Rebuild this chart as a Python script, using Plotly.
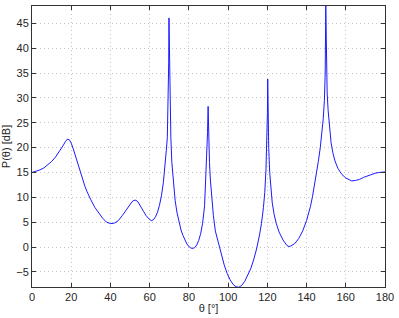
import plotly.graph_objects as go

theta = [0, 2, 4, 6, 8, 10, 12, 14, 15, 16, 17, 18, 19, 20, 21, 22, 23, 24, 25, 26,
         27, 28, 29, 30, 32, 34, 36, 38, 40, 42, 44, 46, 48, 50, 51, 52, 53, 54, 55,
         56, 57, 58, 59, 60, 61, 62, 63, 64, 65, 66, 67, 67.5, 68, 68.5, 69, 69.4,
         69.7, 69.85, 70.1, 70.4, 70.8, 71.3, 72, 73, 74, 75, 76, 77, 78, 79, 80, 81,
         82, 83, 84, 85, 86, 87, 88, 88.6, 89.1, 89.5, 89.8, 90.1, 90.5, 91, 91.7,
         92.5, 93.5, 95, 96.5, 98, 99.5, 101, 102.5, 104, 105.5, 107, 108.5, 110,
         111.5, 113, 114.5, 116, 117, 118, 118.7, 119.3, 119.7, 120.05, 120.2, 120.4,
         120.7, 121.2, 121.8, 122.5, 123.5, 124.5, 126, 128, 130, 131, 132, 134, 136,
         138, 140, 141, 142, 143, 144, 145, 146, 147, 147.8, 148.5, 149.1, 149.5,
         149.8, 150.1, 150.5, 151, 151.7, 152.5, 153.5, 154.5, 156, 158, 160, 162,
         163, 165, 167, 169, 171, 173, 175, 177, 180]
power_db = [15.0, 15.2, 15.5, 15.9, 16.5, 17.2, 18.1, 19.2, 19.8, 20.5, 21.2, 21.7,
            21.6, 20.9, 19.8, 18.5, 17.1, 15.7, 14.4, 13.2, 12.2, 11.2, 10.3, 9.5, 8.0,
            6.8, 5.8, 5.0, 4.7, 4.8, 5.3, 6.3, 7.5, 8.6, 9.1, 9.4, 9.4, 9.1, 8.5, 7.8,
            7.1, 6.4, 5.9, 5.5, 5.3, 5.5, 6.1, 7.0, 8.4, 10.3, 13.0, 14.8, 17.0, 19.5,
            22.0, 28.0, 37.0, 46.1, 38.0, 29.0, 22.0, 17.0, 13.0, 9.3, 6.8, 4.9, 3.4,
            2.3, 1.3, 0.6, 0.1, -0.2, -0.3, -0.1, 0.4, 1.3, 2.7, 4.8, 8.3, 13.0, 19.0,
            23.0, 28.3, 22.0, 17.0, 13.3, 9.5, 6.3, 3.2, 0.8, -1.6, -3.6, -5.3, -6.6,
            -7.5, -8.0, -8.1, -7.7, -6.9, -5.8, -4.4, -2.6, -0.4, 2.4, 4.7, 7.9, 11.0,
            15.5, 21.0, 27.0, 33.8, 26.0, 20.0, 15.0, 11.5, 8.9, 6.5, 4.8, 3.0, 1.4,
            0.3, 0.1, 0.2, 0.7, 1.7, 3.2, 5.3, 6.6, 8.2, 10.1, 12.2, 14.6, 17.2, 20.0,
            22.8, 25.8, 29.5, 35.0, 48.6, 38.0, 31.0, 27.5, 24.0, 21.0, 18.8, 17.3,
            15.8, 14.6, 13.9, 13.4, 13.3, 13.4, 13.6, 14.0, 14.3, 14.6, 14.85, 15.0,
            15.1]

x_ticks = list(range(0, 181, 20))
y_ticks = list(range(-5, 46, 5))

fig = go.Figure()
fig.add_trace(go.Scatter(x=theta, y=power_db, mode="lines",
                         line=dict(color="#1a1aff", width=1)))

axis_common = dict(
    showline=True, mirror="allticks", linecolor="#333333", linewidth=1,
    ticks="inside", ticklen=4, tickcolor="#333333",
    showgrid=True, gridcolor="#c4c4c4", griddash="1px,3px", gridwidth=1,
    zeroline=False, ticklabeloverflow="allow",
    tickfont=dict(family="Liberation Sans, Arial", size=11, color="#262626"),
)

fig.update_layout(
    width=399, height=318,
    margin=dict(l=32, r=7, t=5, b=29),
    paper_bgcolor="white", plot_bgcolor="white",
    showlegend=False,
    font=dict(family="Liberation Sans, Arial", size=11, color="#262626"),
    xaxis=dict(range=[0, 180], tickvals=x_ticks,
               title=dict(text="θ [°]", standoff=2, font=dict(size=11)),
               **axis_common),
    yaxis=dict(range=[-8.05, 48.5], tickvals=y_ticks,
               title=dict(text="P(θ) [dB]", standoff=4, font=dict(size=11)),
               **axis_common),
)

fig.write_html("out.html")
